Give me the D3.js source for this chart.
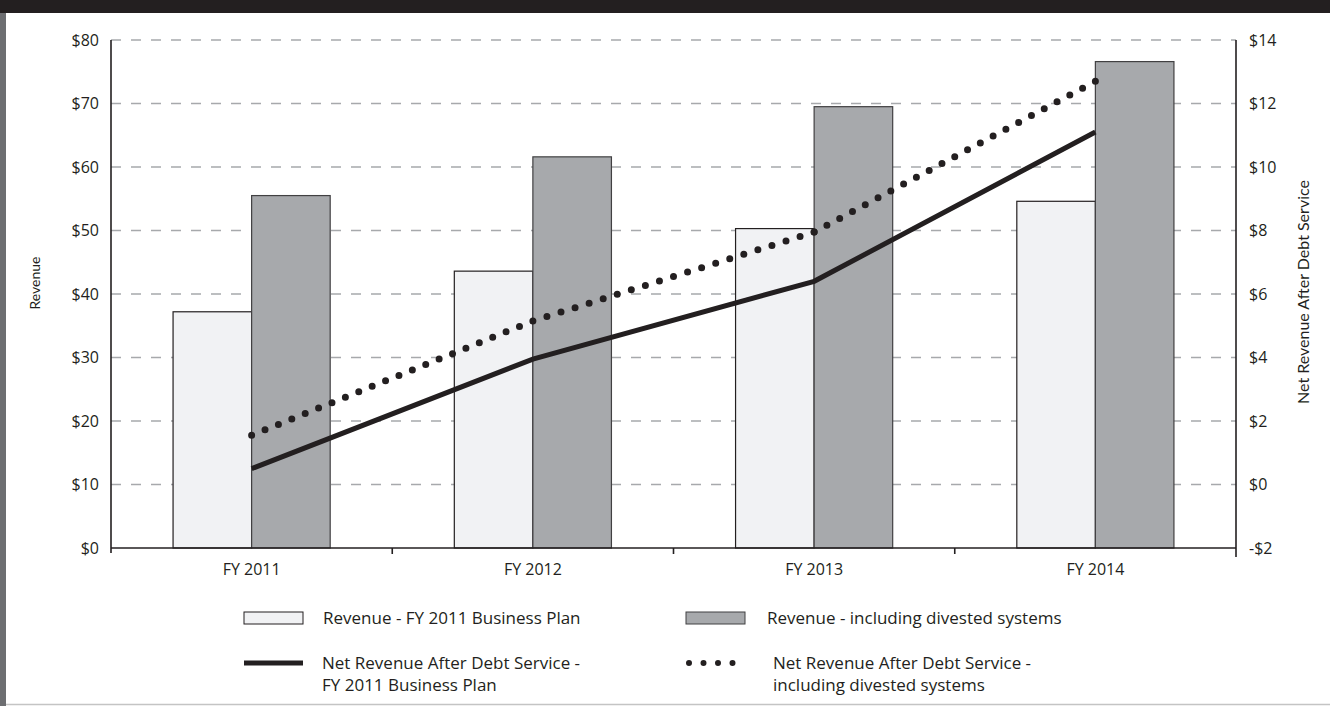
<!DOCTYPE html>
<html>
<head>
<meta charset="utf-8">
<script src="https://cdn.jsdelivr.net/npm/d3@7"></script>
<style>
  html, body { margin: 0; padding: 0; background: #fff; }
  svg { display: block; font-family: "Open Sans", Lato, sans-serif; }
</style>
</head>
<body>
<div id="chart"></div>
<script>
// Data
const years = ["FY 2011", "FY 2012", "FY 2013", "FY 2014"];
const barKeys = ["plan", "divested"];
const revenuePlan = [37.2, 43.6, 50.3, 54.6];
const revenueDivested = [55.5, 61.6, 69.5, 76.6];
const netPlan = [0.5, 3.95, 6.4, 11.1];
const netDivested = [1.55, 5.15, 7.95, 12.7];
const leftTicks = [0, 10, 20, 30, 40, 50, 60, 70, 80];
const rightTicks = [-2, 0, 2, 4, 6, 8, 10, 12, 14];

const width = 1330, height = 706;
const margin = { top: 40, right: 94, bottom: 158, left: 111 };
const ink = "#231f20";

const svg = d3.select("#chart").append("svg")
    .attr("width", width)
    .attr("height", height);

// page frame
svg.append("rect").attr("x", 0).attr("y", 0).attr("width", width).attr("height", 13).attr("fill", ink);
svg.append("rect").attr("x", 0).attr("y", 13).attr("width", 6).attr("height", height - 13).attr("fill", "#6d6e71");
svg.append("line").attr("x1", 6).attr("x2", width).attr("y1", 704.5).attr("y2", 704.5)
    .attr("stroke", "#c4c4c4").attr("stroke-width", 1.5);

// Scales
const x = d3.scaleBand()
    .domain(years)
    .range([margin.left, width - margin.right])
    .padding(0);

const xInner = d3.scaleBand()
    .domain(barKeys)
    .range([0, x.bandwidth()])
    .paddingInner(0)
    .paddingOuter(0.79);

const yLeft = d3.scaleLinear()
    .domain([0, 80])
    .range([height - margin.bottom, margin.top]);

const yRight = d3.scaleLinear()
    .domain([-2, 14])
    .range([height - margin.bottom, margin.top]);

const x0 = margin.left, x1 = width - margin.right;
const yBase = yLeft(0);

// Gridlines
svg.append("g")
    .selectAll("line")
    .data(leftTicks.filter(d => d > 0))
    .join("line")
    .attr("x1", x0).attr("x2", x1)
    .attr("y1", d => yLeft(d)).attr("y2", d => yLeft(d))
    .attr("stroke", "#a7a9ac")
    .attr("stroke-width", 1.5)
    .attr("stroke-dasharray", "10,10");

// Bars
const rows = years.map((y, i) => ({ year: y, plan: revenuePlan[i], divested: revenueDivested[i] }));
const barFill = { plan: "#f1f2f4", divested: "#a7a9ac" };
const barStroke = { plan: "#231f20", divested: "#414042" };

svg.append("g")
    .selectAll("g")
    .data(rows)
    .join("g")
    .attr("transform", d => `translate(${x(d.year)},0)`)
    .selectAll("rect")
    .data(d => barKeys.map(k => ({ key: k, value: d[k] })))
    .join("rect")
    .attr("x", d => xInner(d.key))
    .attr("y", d => yLeft(d.value))
    .attr("width", xInner.bandwidth())
    .attr("height", d => yBase - yLeft(d.value))
    .attr("fill", d => barFill[d.key])
    .attr("stroke", d => barStroke[d.key])
    .attr("stroke-width", 1.2);

// Axes lines
const axes = svg.append("g").attr("stroke", ink).attr("stroke-width", 1.6);
axes.append("line").attr("x1", x0).attr("x2", x0).attr("y1", margin.top).attr("y2", yBase + 5);
axes.append("line").attr("x1", x1).attr("x2", x1).attr("y1", margin.top).attr("y2", yBase + 9);
axes.append("line").attr("x1", x0).attr("x2", x1).attr("y1", yBase).attr("y2", yBase);
axes.selectAll("line.tick")
    .data(years.slice(1))
    .join("line")
    .attr("class", "tick")
    .attr("x1", d => x(d)).attr("x2", d => x(d))
    .attr("y1", yBase).attr("y2", yBase + 6);

// Tick labels
svg.append("g")
    .selectAll("text")
    .data(leftTicks)
    .join("text")
    .attr("x", x0 - 12)
    .attr("y", d => yLeft(d))
    .attr("dy", "0.36em")
    .attr("text-anchor", "end")
    .attr("font-size", 16)
    .attr("fill", ink)
    .text(d => "$" + d);

svg.append("g")
    .selectAll("text")
    .data(rightTicks)
    .join("text")
    .attr("x", x1 + 13)
    .attr("y", d => yRight(d))
    .attr("dy", "0.36em")
    .attr("text-anchor", "start")
    .attr("font-size", 16)
    .attr("fill", ink)
    .text(d => (d < 0 ? "-$" : "$") + Math.abs(d));

svg.append("g")
    .selectAll("text")
    .data(years)
    .join("text")
    .attr("x", d => x(d) + x.bandwidth() / 2)
    .attr("y", yBase + 27)
    .attr("text-anchor", "middle")
    .attr("font-size", 16)
    .attr("fill", ink)
    .text(d => d);

// Axis titles
svg.append("text")
    .attr("transform", `translate(40,283) rotate(-90)`)
    .attr("text-anchor", "middle")
    .attr("font-family", "Lato, sans-serif")
    .attr("font-size", 14)
    .attr("fill", ink)
    .text("Revenue");

svg.append("text")
    .attr("transform", `translate(1309,292) rotate(-90)`)
    .attr("text-anchor", "middle")
    .attr("font-family", "Lato, sans-serif")
    .attr("font-size", 16)
    .attr("fill", ink)
    .text("Net Revenue After Debt Service");

// Lines
const px = i => x(years[i]) + x.bandwidth() / 2;
const lineGen = d3.line()
    .x((d, i) => px(i))
    .y(d => yRight(d));

svg.append("path")
    .datum(netPlan)
    .attr("d", lineGen)
    .attr("fill", "none")
    .attr("stroke", ink)
    .attr("stroke-width", 5);

// dotted series: one path per segment so a dot sits on every year
const segs = d3.pairs(netDivested.map((v, i) => [px(i), yRight(v)]));
svg.append("g")
    .selectAll("path")
    .data(segs)
    .join("path")
    .attr("d", d => d3.line()(d))
    .attr("fill", "none")
    .attr("stroke", ink)
    .attr("stroke-width", 7)
    .attr("stroke-linecap", "round")
    .attr("stroke-dasharray", d => {
        const len = Math.hypot(d[1][0] - d[0][0], d[1][1] - d[0][1]);
        return "0," + (len / Math.round(len / 14.6));
    });

// Legend
const legend = svg.append("g");
const items = [
    { type: "bar", key: "plan", x: 244, y: 618, lines: ["Revenue - FY 2011 Business Plan"], tx: 323 },
    { type: "bar", key: "divested", x: 686, y: 618, lines: ["Revenue - including divested systems"], tx: 767 },
    { type: "solid", x: 244, y: 663, lines: ["Net Revenue After Debt Service -", "FY 2011 Business Plan"], tx: 322 },
    { type: "dots", x: 686, y: 663, lines: ["Net Revenue After Debt Service -", "including divested systems"], tx: 773 }
];

items.forEach(d => {
    if (d.type === "bar") {
        legend.append("rect")
            .attr("x", d.x).attr("y", d.y - 6)
            .attr("width", 59).attr("height", 12)
            .attr("fill", barFill[d.key])
            .attr("stroke", barStroke[d.key]).attr("stroke-width", 1);
    } else if (d.type === "solid") {
        legend.append("line")
            .attr("x1", d.x).attr("x2", d.x + 59)
            .attr("y1", d.y).attr("y2", d.y)
            .attr("stroke", ink).attr("stroke-width", 5);
    } else {
        legend.append("line")
            .attr("x1", d.x + 3).attr("x2", d.x + 59)
            .attr("y1", d.y).attr("y2", d.y)
            .attr("stroke", ink).attr("stroke-width", 6)
            .attr("stroke-linecap", "round")
            .attr("stroke-dasharray", "0,14.5");
    }
    d.lines.forEach((s, i) => {
        legend.append("text")
            .attr("x", d.tx)
            .attr("y", d.y + 6 + i * 22)
            .attr("font-size", 17)
            .attr("fill", ink)
            .text(s);
    });
});
</script>
</body>
</html>
